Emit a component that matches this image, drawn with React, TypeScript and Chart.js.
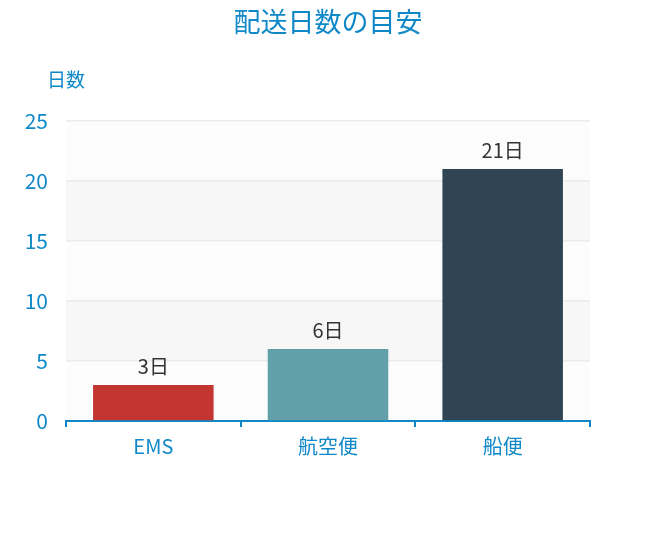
import React, { useEffect, useRef } from "react";
import { Chart, registerables } from "chart.js";

Chart.register(...registerables);

const categories = ["EMS", "航空便", "船便"];
const days = [3, 6, 21];
const barColors = ["#c23531", "#61a0a8", "#2f4554"];
const yTicks = [0, 5, 10, 15, 20, 25];
const titleText = "配送日数の目安";
const yAxisName = "日数";
const unit = "日";

const BLUE = "#0f88c8";
const FONT = "'Noto Sans CJK JP', 'Noto Sans', sans-serif";

const bandsPlugin = {
  id: "bands",
  beforeDraw(chart: any) {
    const { ctx, chartArea, scales } = chart;
    const y = scales.y;
    ctx.save();
    for (let i = 0; i < yTicks.length - 1; i++) {
      const top = y.getPixelForValue(yTicks[i + 1]);
      const bottom = y.getPixelForValue(yTicks[i]);
      ctx.fillStyle = i % 2 === 0 ? "#fcfcfc" : "#f7f7f7";
      ctx.fillRect(chartArea.left, top, chartArea.right - chartArea.left, bottom - top);
    }
    ctx.restore();
  },
};

const textPlugin = {
  id: "texts",
  afterDraw(chart: any) {
    const { ctx, chartArea } = chart;
    ctx.save();
    ctx.fillStyle = BLUE;
    ctx.textAlign = "center";
    ctx.textBaseline = "middle";
    ctx.font = `27px ${FONT}`;
    ctx.fillText(titleText, 328, 22);
    ctx.font = `19px ${FONT}`;
    ctx.fillText(yAxisName, chartArea.left, 80);
    ctx.restore();
  },
  afterDatasetsDraw(chart: any) {
    const { ctx } = chart;
    const meta = chart.getDatasetMeta(0);
    ctx.save();
    ctx.fillStyle = "#333333";
    ctx.textAlign = "center";
    ctx.textBaseline = "bottom";
    ctx.font = `20px ${FONT}`;
    meta.data.forEach((bar: any, i: number) => {
      ctx.fillText(`${days[i]}${unit}`, bar.x, bar.y - 9);
    });
    ctx.restore();
  },
};

export default function App() {
  const ref = useRef<HTMLCanvasElement>(null);
  useEffect(() => {
    document.body.style.margin = "0";
    const chart = new Chart(ref.current!, {
      type: "bar",
      data: {
        labels: categories,
        datasets: [
          {
            data: days,
            backgroundColor: barColors,
            barPercentage: 0.69,
            categoryPercentage: 1,
          },
        ],
      },
      options: {
        responsive: false,
        animation: false,
        layout: { padding: { top: 121, right: 66, bottom: 99, left: 0 } },
        plugins: {
          legend: { display: false },
          title: { display: false },
          tooltip: { enabled: false },
        },
        scales: {
          x: {
            grid: {
              display: true,
              drawOnChartArea: false,
              drawTicks: true,
              tickLength: 6,
              color: BLUE,
              lineWidth: 2,
              offset: true,
            },
            border: { display: true, color: BLUE, width: 2 },
            ticks: { color: BLUE, font: { size: 20, family: FONT }, padding: 7 },
            afterFit: (s: any) => {
              s.height = 40;
            },
          },
          y: {
            min: 0,
            max: 25,
            ticks: { stepSize: 5, color: BLUE, font: { size: 21, family: FONT }, padding: 18 },
            grid: { color: "#ebebeb", lineWidth: 1.5, drawTicks: false },
            border: { display: false },
            afterFit: (s: any) => {
              s.width = 66;
            },
          },
        },
      },
      plugins: [bandsPlugin, textPlugin],
    });
    return () => chart.destroy();
  }, []);
  return (
    <div style={{ width: 656, height: 560, background: "#ffffff" }}>
      <canvas ref={ref} width={656} height={560} />
    </div>
  );
}
